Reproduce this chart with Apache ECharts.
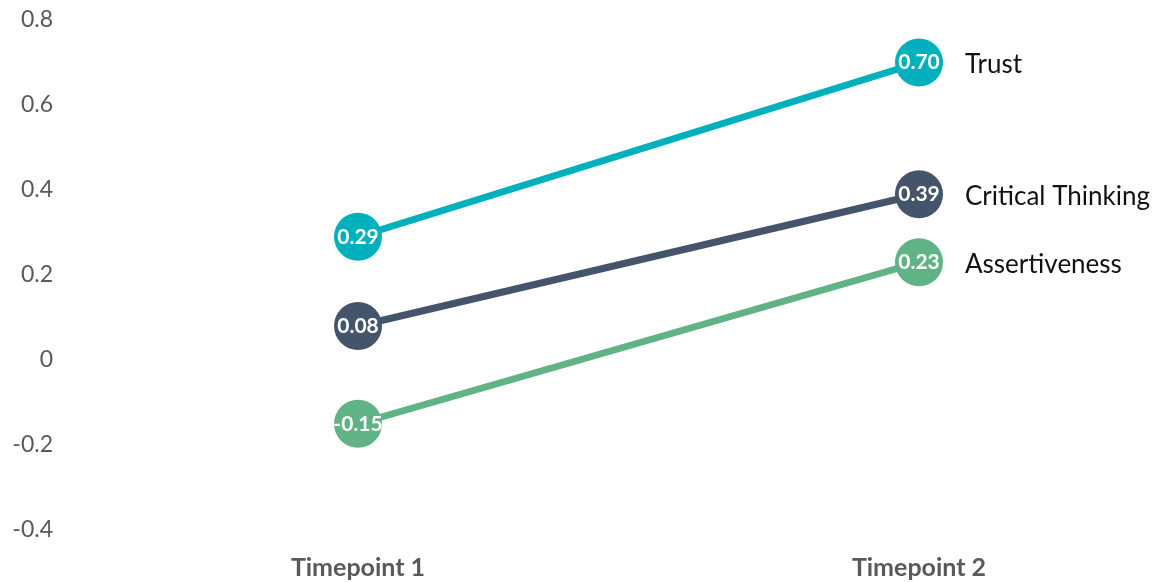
<!DOCTYPE html>
<html>
<head>
<meta charset="utf-8">
<script src="https://cdn.jsdelivr.net/npm/echarts@6/dist/echarts.min.js"></script>
<style>
  html, body { margin: 0; padding: 0; background: #fff; }
  #chart { width: 1164px; height: 582px; }
</style>
</head>
<body>
<div id="chart"></div>
<script>
const categories = ['Timepoint 1', 'Timepoint 2']
const seriesNames = ['Trust', 'Critical Thinking', 'Assertiveness']
const trust = [0.29, 0.70]
const criticalThinking = [0.08, 0.39]
const assertiveness = [-0.15, 0.23]
const colors = ['#00B0BD', '#44546A', '#5FB385']

const font = 'Lato, "Open Sans", sans-serif'

function makeSeries(name, data, color) {
  return {
    name: name,
    type: 'line',
    data: data,
    clip: false,
    symbol: 'circle',
    symbolSize: 48,
    lineStyle: { width: 7, color: color },
    itemStyle: { color: color },
    z: 3,
    label: {
      show: true,
      position: 'inside',
      color: '#fff',
      fontWeight: 'bold',
      fontSize: 21,
      fontFamily: font,
      formatter: p => p.value.toFixed(2)
    },
    endLabel: {
      show: true,
      formatter: '{a}',
      color: '#111',
      fontSize: 26,
      fontFamily: font,
      distance: 46,
      offset: [0, 2]
    }
  }
}

// plot spans from Timepoint 1 to Timepoint 2; y labels pushed left with offset
const chart = echarts.init(document.getElementById('chart'))
chart.setOption({
  animation: false,
  grid: { left: 358, right: 245, top: 20, bottom: 52 },
  xAxis: {
    type: 'category',
    data: categories,
    boundaryGap: false,
    axisLine: { show: false },
    axisTick: { show: false },
    axisLabel: {
      color: '#595959',
      fontWeight: 'bold',
      fontSize: 25,
      fontFamily: font,
      margin: 25
    }
  },
  yAxis: {
    type: 'value',
    min: -0.4,
    max: 0.8,
    interval: 0.2,
    offset: 281,
    axisLine: { show: false },
    axisTick: { show: false },
    splitLine: { show: false },
    axisLabel: {
      color: '#595959',
      fontSize: 23,
      fontFamily: font,
      margin: 24,
      formatter: v => (Math.abs(v) < 1e-9 ? '0' : String(Math.round(v * 10) / 10))
    }
  },
  series: [
    makeSeries(seriesNames[0], trust, colors[0]),
    makeSeries(seriesNames[1], criticalThinking, colors[1]),
    makeSeries(seriesNames[2], assertiveness, colors[2])
  ]
})
</script>
</body>
</html>
